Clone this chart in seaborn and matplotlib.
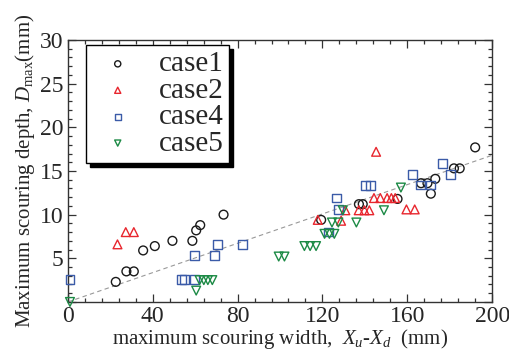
import numpy as np
import pandas as pd
import matplotlib
matplotlib.use("Agg")
import matplotlib.pyplot as plt
import seaborn as sns
from matplotlib.ticker import MultipleLocator

# ---- data ----
case1_x = [22.6, 27.6, 31.1, 35.5, 41.0, 49.3, 58.7, 60.5, 62.4, 73.4, 119.4, 137.2, 139.0,
           155.4, 166.5, 169.5, 171.1, 173.2, 182.0, 184.7, 192.0]
case1_y = [2.3, 3.5, 3.5, 5.9, 6.4, 7.0, 7.0, 8.2, 8.8, 10.0, 9.4, 11.2, 11.2,
           11.8, 13.6, 13.6, 12.4, 14.1, 15.3, 15.3, 17.7]

case2_x = [23.4, 27.3, 31.1, 117.8, 128.8, 130.8, 137.1, 139.8, 142.1, 144.3, 147.3, 150.5,
           152.5, 154.3, 145.3, 159.6, 163.5]
case2_y = [6.6, 8.0, 8.0, 9.4, 9.3, 10.5, 10.5, 10.5, 10.5, 11.9, 11.9, 11.9,
           11.9, 11.9, 17.2, 10.6, 10.6]

case4_x = [1.0, 53.5, 55.1, 59.8, 59.8, 69.2, 70.7, 82.3, 122.8, 126.6, 127.6, 140.2, 142.8,
           162.3, 166.2, 171.1, 176.6, 180.5]
case4_y = [2.6, 2.6, 2.6, 2.6, 5.3, 5.3, 6.6, 6.6, 8.0, 11.9, 10.6, 13.3, 13.3,
           14.6, 13.4, 13.4, 15.9, 14.6]

case5_x = [1.0, 60.5, 62.1, 64.1, 66.0, 68.1, 99.4, 102.1, 111.5, 114.2, 117.0, 121.0, 123.3,
           125.6, 124.5, 127.5, 129.6, 136.0, 149.0, 157.0]
case5_y = [0.0, 1.3, 2.5, 2.5, 2.5, 2.5, 5.2, 5.2, 6.4, 6.4, 6.4, 7.8, 7.8,
           7.8, 9.1, 9.1, 10.5, 9.1, 10.5, 13.1]

fit_slope = 0.084
fit_x = [0, 200]

x_ticks = [0, 40, 80, 120, 160, 200]
y_ticks = [0, 5, 10, 15, 20, 25, 30]

cases = [
    ("case1", case1_x, case1_y, "o", "#1a1a1a"),
    ("case2", case2_x, case2_y, "^", "#e8262e"),
    ("case4", case4_x, case4_y, "s", "#3b5ba8"),
    ("case5", case5_x, case5_y, "v", "#1c8a45"),
]

sns.set_theme(style="ticks")
plt.rcParams["font.family"] = ["Liberation Serif", "DejaVu Serif"]
plt.rcParams["mathtext.fontset"] = "custom"
plt.rcParams["mathtext.rm"] = "Liberation Serif"
plt.rcParams["mathtext.it"] = "Liberation Serif:italic"

fig = plt.figure(figsize=(5.1, 3.54), dpi=100)
ax = fig.add_axes([0.133, 0.147, 0.832, 0.74])

ax.plot(fit_x, [fit_slope * v for v in fit_x], ls=(0, (4, 3)), color="#999999", lw=0.8, zorder=1)

for name, xs, ys, m, c in cases:
    df = pd.DataFrame({"x": xs, "y": ys})
    sns.scatterplot(data=df, x="x", y="y", marker=m, s=40, facecolor="none",
                    edgecolor=c, linewidth=1.0, ax=ax, label=name, zorder=3,
                    clip_on=False)

ax.set_xlim(0, 200)
ax.set_ylim(0, 30)
ax.set_xticks(x_ticks)
ax.set_yticks(y_ticks)
ax.set_yticklabels(["" if t == 0 else str(t) for t in y_ticks])
ax.xaxis.set_minor_locator(MultipleLocator(8))
ax.yaxis.set_minor_locator(MultipleLocator(1))
ax.tick_params(which="both", direction="in", top=True, right=True, width=0.9, color="#333333")
ax.tick_params(which="major", length=6, labelsize=17, pad=3)
ax.tick_params(which="minor", length=3)
for sp in ax.spines.values():
    sp.set_linewidth(1.0)
    sp.set_color("#333333")

ax.set_xlabel("maximum scouring width,  $X_u$-$X_d$  (mm)", fontsize=15, labelpad=0)
ax.set_ylabel("Maximum scouring depth, $D_{\\mathrm{max}}$(mm)", fontsize=15, labelpad=2)

leg = ax.legend(loc="upper left", bbox_to_anchor=(0.042, 0.98), borderaxespad=0,
                fontsize=21, markerscale=0.7, frameon=True, fancybox=False,
                shadow={"color": "black", "alpha": 1.0, "ox": 3, "oy": -3},
                labelspacing=0.0, handletextpad=0.5, borderpad=0.2, handlelength=1.8)
leg.get_frame().set_edgecolor("black")
leg.get_frame().set_linewidth(1.0)
for h in leg.legend_handles:
    try:
        h.set_facecolor("none")
    except Exception:
        pass

fig.savefig("out.png", dpi=100)
